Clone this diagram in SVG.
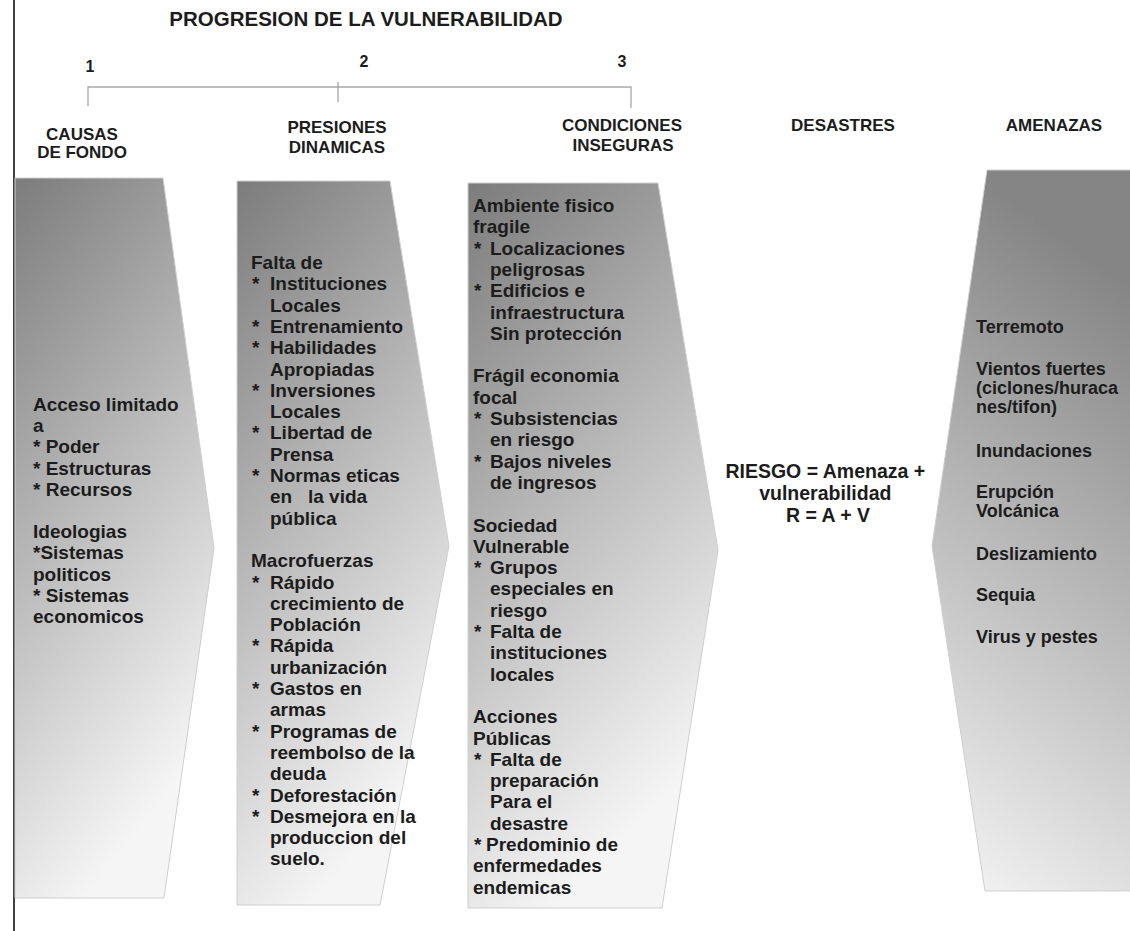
<svg xmlns="http://www.w3.org/2000/svg" width="1130" height="931" viewBox="0 0 1130 931">
<defs>
<linearGradient id="g" x1="0" y1="0" x2="0.35" y2="1">
<stop offset="0" stop-color="#7c7c7c"/>
<stop offset="0.5" stop-color="#b9b9b9"/>
<stop offset="1" stop-color="#f5f5f5"/>
</linearGradient>
<linearGradient id="g4" x1="0.2" y1="0" x2="0" y2="1">
<stop offset="0" stop-color="#858585"/>
<stop offset="0.5" stop-color="#bdbdbd"/>
<stop offset="1" stop-color="#f6f6f6"/>
</linearGradient>
<style>
.t{font-family:"Liberation Sans",Arial,sans-serif;font-weight:bold;fill:#1c1c1c}
.h{font-size:17px;text-anchor:middle}
.n{font-size:16px;text-anchor:middle}
.b{font-size:19px}
.a{font-size:18px}
.c{text-anchor:middle;font-size:19.5px}
.shape{fill:url(#g);stroke:#cfcfcf;stroke-width:1}
.br{stroke:#a8a8a8;stroke-width:1.3;fill:none}
</style>
</defs>
<rect width="1130" height="931" fill="#ffffff"/>

<g id="connectors">
<line x1="14" y1="0" x2="14" y2="931" stroke="#111" stroke-width="1.6"/>
<path class="br" d="M88,106 V87 H631 V108 M338,82 V102"/>
</g>

<g id="title">
<text class="t" x="366" y="26" font-size="20.5" text-anchor="middle">PROGRESION DE LA VULNERABILIDAD</text>
<text class="t n" x="90" y="72">1</text>
<text class="t n" x="364" y="67">2</text>
<text class="t n" x="622" y="67">3</text>
</g>

<g id="node-causas">
<text class="t h" x="82" y="140">CAUSAS</text>
<text class="t h" x="82" y="158">DE FONDO</text>
<path class="shape" d="M15,178 L163,178 L214,548 L164,898 L15,898 Z"/>
<text class="t b">
<tspan x="33" y="411">Acceso limitado</tspan>
<tspan x="33" y="432.2">a</tspan>
<tspan x="33" y="453.4">* Poder</tspan>
<tspan x="33" y="474.6">* Estructuras</tspan>
<tspan x="33" y="495.8">* Recursos</tspan>
<tspan x="33" y="538.2">Ideologias</tspan>
<tspan x="33" y="559.4">*Sistemas</tspan>
<tspan x="33" y="580.6">politicos</tspan>
<tspan x="33" y="601.8">* Sistemas</tspan>
<tspan x="33" y="623">economicos</tspan>
</text>
</g>

<g id="node-presiones">
<text class="t h" x="337" y="133">PRESIONES</text>
<text class="t h" x="337" y="153">DINAMICAS</text>
<path class="shape" d="M237,181 L390,181 L449,546 L380,905 L237,905 Z"/>
<text class="t b">
<tspan x="251" y="269">Falta de</tspan>
<tspan x="252" y="290.3">*</tspan><tspan x="270" y="290.3">Instituciones</tspan>
<tspan x="270" y="311.6">Locales</tspan>
<tspan x="252" y="332.9">*</tspan><tspan x="270" y="332.9">Entrenamiento</tspan>
<tspan x="252" y="354.2">*</tspan><tspan x="270" y="354.2">Habilidades</tspan>
<tspan x="270" y="375.5">Apropiadas</tspan>
<tspan x="252" y="396.8">*</tspan><tspan x="270" y="396.8">Inversiones</tspan>
<tspan x="270" y="418.1">Locales</tspan>
<tspan x="252" y="439.4">*</tspan><tspan x="270" y="439.4">Libertad de</tspan>
<tspan x="270" y="460.7">Prensa</tspan>
<tspan x="252" y="482">*</tspan><tspan x="270" y="482">Normas eticas</tspan>
<tspan x="270" y="503.3">en</tspan><tspan x="308" y="503.3">la vida</tspan>
<tspan x="270" y="524.6">pública</tspan>
<tspan x="251" y="567.2">Macrofuerzas</tspan>
<tspan x="252" y="588.5">*</tspan><tspan x="270" y="588.5">Rápido</tspan>
<tspan x="270" y="609.8">crecimiento de</tspan>
<tspan x="270" y="631.1">Población</tspan>
<tspan x="252" y="652.4">*</tspan><tspan x="270" y="652.4">Rápida</tspan>
<tspan x="270" y="673.7">urbanización</tspan>
<tspan x="252" y="695">*</tspan><tspan x="270" y="695">Gastos en</tspan>
<tspan x="270" y="716.3">armas</tspan>
<tspan x="252" y="737.6">*</tspan><tspan x="270" y="737.6">Programas de</tspan>
<tspan x="270" y="758.9">reembolso de la</tspan>
<tspan x="270" y="780.2">deuda</tspan>
<tspan x="252" y="801.5">*</tspan><tspan x="270" y="801.5">Deforestación</tspan>
<tspan x="252" y="822.8">*</tspan><tspan x="270" y="822.8">Desmejora en la</tspan>
<tspan x="270" y="844.1">produccion del</tspan>
<tspan x="270" y="865.4">suelo.</tspan>
</text>
</g>

<g id="node-condiciones">
<text class="t h" x="622" y="131">CONDICIONES</text>
<text class="t h" x="623" y="151">INSEGURAS</text>
<path class="shape" d="M468,183 L658,183 L718,550 L662,908 L468,908 Z"/>
<text class="t b">
<tspan x="473" y="212">Ambiente fisico</tspan>
<tspan x="473" y="233.3">fragile</tspan>
<tspan x="474" y="254.6">*</tspan><tspan x="490" y="254.6">Localizaciones</tspan>
<tspan x="490" y="275.9">peligrosas</tspan>
<tspan x="474" y="297.2">*</tspan><tspan x="490" y="297.2">Edificios e</tspan>
<tspan x="490" y="318.5">infraestructura</tspan>
<tspan x="490" y="339.8">Sin protección</tspan>
<tspan x="473" y="382.4">Frágil economia</tspan>
<tspan x="473" y="403.7">focal</tspan>
<tspan x="474" y="425">*</tspan><tspan x="490" y="425">Subsistencias</tspan>
<tspan x="490" y="446.3">en riesgo</tspan>
<tspan x="474" y="467.6">*</tspan><tspan x="490" y="467.6">Bajos niveles</tspan>
<tspan x="490" y="488.9">de ingresos</tspan>
<tspan x="473" y="531.5">Sociedad</tspan>
<tspan x="473" y="552.8">Vulnerable</tspan>
<tspan x="474" y="574.1">*</tspan><tspan x="490" y="574.1">Grupos</tspan>
<tspan x="490" y="595.4">especiales en</tspan>
<tspan x="490" y="616.7">riesgo</tspan>
<tspan x="474" y="638">*</tspan><tspan x="490" y="638">Falta de</tspan>
<tspan x="490" y="659.3">instituciones</tspan>
<tspan x="490" y="680.6">locales</tspan>
<tspan x="473" y="723.2">Acciones</tspan>
<tspan x="473" y="744.5">Públicas</tspan>
<tspan x="474" y="765.8">*</tspan><tspan x="490" y="765.8">Falta de</tspan>
<tspan x="490" y="787.1">preparación</tspan>
<tspan x="490" y="808.4">Para el</tspan>
<tspan x="490" y="829.7">desastre</tspan>
<tspan x="474" y="851">*</tspan><tspan x="486" y="851">Predominio de</tspan>
<tspan x="473" y="872.3">enfermedades</tspan>
<tspan x="473" y="893.6">endemicas</tspan>
</text>
</g>

<g id="node-desastres">
<text class="t h" x="843" y="131">DESASTRES</text>
<text class="t c">
<tspan x="828" y="478">RIESGO = Amenaza +</tspan>
<tspan x="828" y="500">vulnerabilidad</tspan>
<tspan x="828" y="522">R = A + V</tspan>
</text>
</g>

<g id="node-amenazas">
<text class="t h" x="1054" y="131">AMENAZAS</text>
<path d="M987,170 L1131,170 L1131,891 L985,891 L932,546 Z" fill="url(#g4)" stroke="#cfcfcf" stroke-width="1"/>
<text class="t a">
<tspan x="976" y="333">Terremoto</tspan>
<tspan x="976" y="375">Vientos fuertes</tspan>
<tspan x="976" y="394">(ciclones/huraca</tspan>
<tspan x="976" y="413">nes/tifon)</tspan>
<tspan x="976" y="457">Inundaciones</tspan>
<tspan x="976" y="498">Erupción</tspan>
<tspan x="976" y="517">Volcánica</tspan>
<tspan x="976" y="560">Deslizamiento</tspan>
<tspan x="976" y="601">Sequia</tspan>
<tspan x="976" y="643">Virus y pestes</tspan>
</text>
</g>
</svg>
